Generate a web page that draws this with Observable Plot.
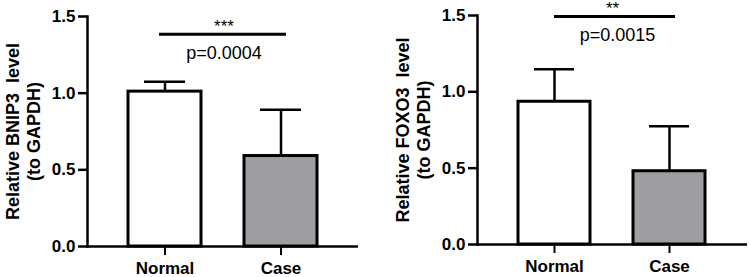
<!DOCTYPE html>
<html><head><meta charset="utf-8">
<script src="https://cdn.jsdelivr.net/npm/d3@7"></script>
<script src="https://cdn.jsdelivr.net/npm/@observablehq/plot@0.6"></script>
<style>
body{margin:0;background:#fff;}
#wrap{display:flex;width:750px;height:277px;}
#wrap svg{display:block;}
</style></head><body><div id="wrap"></div>
<script>
const groups = ["Normal", "Case"];
const bnip3Mean = [1.01, 0.59];
const bnip3Upper = [1.074, 0.892];
const foxo3Mean = [0.935, 0.48];
const foxo3Upper = [1.148, 0.774];
const yTicks = [0, 0.5, 1.0, 1.5];
const yLabels = ["Relative BNIP3  level\n(to GAPDH)", "Relative FOXO3  level\n(to GAPDH)"];
const stars = ["***", "**"];
const pValues = ["p=0.0004", "p=0.0015"];
const sigY = [1.385, 1.493];
const fills = ["#ffffff", "#9e9ea2"];

const layouts = [
  {ml: 87, mr: 17, mt: 16, mb: 31, sigL: 31, sigR: 31, starDx: 59, pDx: 59},
  {ml: 102, mr: 3, mt: 15, mb: 33, sigL: 36, sigR: 30, starDx: 58, pDx: 63}
];
const series = [[bnip3Mean, bnip3Upper], [foxo3Mean, foxo3Upper]];

function panel(i) {
  const L = layouts[i];
  const [means, uppers] = series[i];
  const data = groups.map((g, j) => ({group: g, mean: means[j], upper: uppers[j], fill: fills[j]}));
  return Plot.plot({
    width: 375, height: 277,
    marginLeft: L.ml, marginRight: L.mr, marginTop: L.mt, marginBottom: L.mb,
    style: {fontFamily: "'Liberation Sans', Arial, sans-serif", fontSize: "17px", fontWeight: "bold", color: "black", background: "white"},
    x: {domain: groups, paddingInner: 0.37, paddingOuter: 0.35, align: 0.5, label: null},
    y: {domain: [0, 1.5], label: null},
    color: {type: "identity"},
    marks: [
      Plot.ruleX(data, {x: "group", y1: "mean", y2: "upper", stroke: "black", strokeWidth: 2.5}),
      Plot.barY(data, {x: "group", y: "mean", fill: "fill", stroke: "black", strokeWidth: 3}),
      Plot.tickY(data, {x: "group", y: "upper", stroke: "black", strokeWidth: 2.5, insetLeft: 16, insetRight: 16}),
      Plot.axisY({ticks: yTicks, tickFormat: d3.format(".1f"), tickSize: 9, tickPadding: 3, strokeWidth: 2.5, fontSize: 17, fontWeight: "bold", label: null}),
      Plot.axisX({tickSize: 9, tickPadding: 6, strokeWidth: 2, fontSize: 17, fontWeight: "bold", label: null}),
      Plot.frame({anchor: "left", stroke: "black", strokeWidth: 2.5}),
      Plot.ruleY([0], {stroke: "black", strokeWidth: 2.5}),
      Plot.ruleY([sigY[i]], {y: d => d, x1: () => groups[0], x2: () => groups[1], insetLeft: L.sigL, insetRight: L.sigR, stroke: "black", strokeWidth: 3}),
      Plot.text([stars[i]], {text: d => d, x: () => groups[0], y: () => sigY[i], dx: L.starDx, dy: -8, fontSize: 17, fontWeight: "normal", fill: "black"}),
      Plot.text([pValues[i]], {text: d => d, x: () => groups[0], y: () => sigY[i], dx: L.pDx, dy: 19, fontSize: 18, fontWeight: "normal", fill: "black"}),
      Plot.text([yLabels[i]], {text: d => d, frameAnchor: "left", dx: -65, rotate: -90, fontSize: 18, fontWeight: "bold", lineHeight: 1.2, textAnchor: "middle", fill: "black"})
    ]
  });
}
const wrap = document.getElementById("wrap");
wrap.appendChild(panel(0));
wrap.appendChild(panel(1));
</script>
</body></html>
